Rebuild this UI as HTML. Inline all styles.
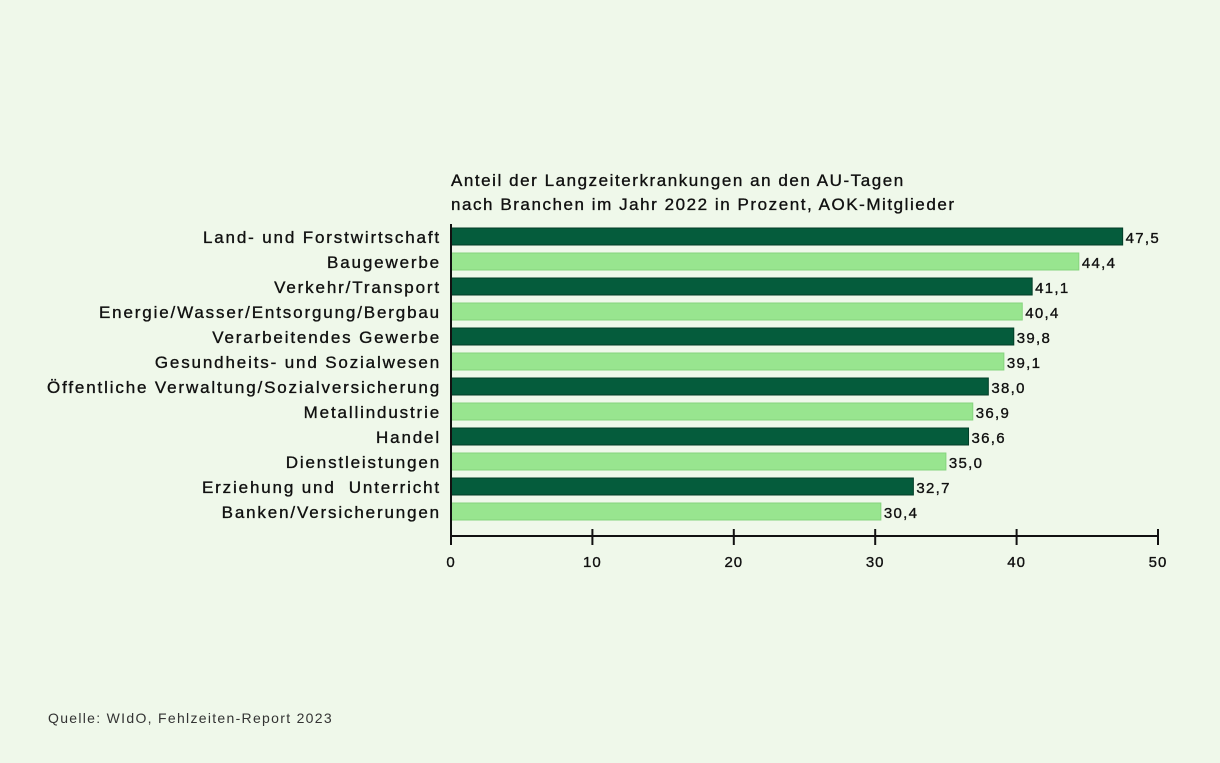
<!DOCTYPE html>
<html><head><meta charset="utf-8"><style>
body{margin:0;background:#eff8ea;font-family:"Liberation Sans",sans-serif;}
svg{display:block}
text{font-family:"Liberation Sans",sans-serif;fill:#111;}
.lab{stroke:#111;stroke-width:0.35px;}
</style></head><body>
<svg width="1220" height="763">
<rect width="1220" height="763" fill="#eff8ea"/>
<text x="451" y="186" font-size="17" letter-spacing="1.55" class="lab">Anteil der Langzeiterkrankungen an den AU-Tagen</text>
<text x="451" y="210" font-size="17" letter-spacing="1.55" class="lab">nach Branchen im Jahr 2022 in Prozent, AOK-Mitglieder</text>
<g id="bars"></g>
<g id="axis"></g>
<text x="48" y="723" font-size="14" letter-spacing="1.3" style="fill:#333">Quelle: WIdO, Fehlzeiten-Report 2023</text>
</svg>
<script>
const categories=["Land- und Forstwirtschaft","Baugewerbe","Verkehr/Transport","Energie/Wasser/Entsorgung/Bergbau","Verarbeitendes Gewerbe","Gesundheits- und Sozialwesen","Öffentliche Verwaltung/Sozialversicherung","Metallindustrie","Handel","Dienstleistungen","Erziehung und  Unterricht","Banken/Versicherungen"];
const values=[47.5,44.4,41.1,40.4,39.8,39.1,38.0,36.9,36.6,35.0,32.7,30.4];
const ticks=[0,10,20,30,40,50];
const NS="http://www.w3.org/2000/svg";
const x0=451,x1=1158,vmax=50;
const xs=v=>x0+(x1-x0)*v/vmax;
const ys=i=>228+25*i;
const bh=17;
const bars=document.getElementById('bars');
function mk(t,a,p){const e=document.createElementNS(NS,t);for(const k in a)e.setAttribute(k,a[k]);p.appendChild(e);return e;}
categories.forEach((c,i)=>{
 const dark=i%2===0;
 const r=mk('rect',{x:x0,y:ys(i),width:xs(values[i])-x0,height:bh,fill:dark?'#055c3c':'#98e58f',stroke:dark?'#033d27':'#86d47e','stroke-width':1},bars);
 
 
 const l=mk('text',{x:441,y:ys(i)+15,'text-anchor':'end','font-size':17,'letter-spacing':1.85,'class':'lab'},bars);
 l.style.whiteSpace='pre';
 l.textContent=c;
 
 
 const v=mk('text',{x:xs(values[i])+3,y:ys(i)+15,'font-size':15,'letter-spacing':1.3,'class':'lab'},bars);
 v.textContent=values[i].toFixed(1).replace('.',',');
 
 
});
const ax=document.getElementById('axis');
const yl=mk('line',{x1:x0,y1:224,x2:x0,y2:540,stroke:'#111','stroke-width':2},ax);


const xl=mk('line',{x1:x0,y1:536,x2:x1+1,y2:536,stroke:'#111','stroke-width':2},ax);


ticks.forEach(t=>{
 const tk=mk('line',{x1:xs(t),y1:529,x2:xs(t),y2:545,stroke:'#111','stroke-width':2},ax);
 
 
 const tl=mk('text',{x:xs(t),y:567,'text-anchor':'middle','font-size':15,'letter-spacing':1,'class':'lab'},ax);
 tl.textContent=t;
 
 
});
</script>
</body></html>
